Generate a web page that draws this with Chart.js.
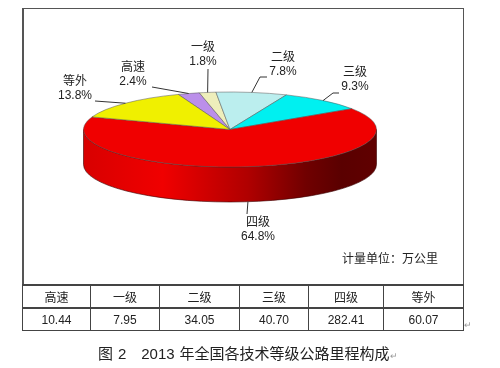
<!DOCTYPE html>
<html>
<head>
<meta charset="utf-8">
<title>图2</title>
<script src="https://cdn.jsdelivr.net/npm/chart.js@4/dist/chart.umd.min.js"></script>
<style>
    html, body { margin: 0; padding: 0; background: #fff; }
    #page { position: relative; width: 500px; height: 368px; overflow: hidden; font-family: "Liberation Sans", "Noto Sans CJK SC", sans-serif; color: #222; }
    #frame { position: absolute; left: 22px; top: 8px; width: 439px; height: 276px; border: 1px solid #555; border-left-width: 2px; border-bottom: 0; }
    canvas { position: absolute; left: 0; top: 0; }
    #unit { position: absolute; left: 342px; top: 251px; font-size: 12px; line-height: 16px; white-space: nowrap; }
    #road-table { position: absolute; left: 22px; top: 284px; width: 441px; height: 47px; border-collapse: collapse; table-layout: fixed; font-size: 12px; }
    #road-table td { border: 1px solid #444; border-top-width: 2px; padding: 0; text-align: center; height: 21px; }
    #mark { position: absolute; left: 464px; top: 320px; font-size: 9px; color: #999; }
    #caption { position: absolute; left: 98px; top: 345px; font-size: 15px; line-height: 18px; word-spacing: 0.8px; white-space: pre; }
    #caption span { color: #999; font-size: 9px; }
</style>
</head>
<body>
<div id="page">
    <div id="frame"></div>
    <canvas id="chart-pie" width="500" height="368"></canvas>
    <div id="unit">计量单位&#xFF1A;万公里</div>
    <table id="road-table"></table>
    <div id="mark">↵</div>
    <div id="caption">图 2   2013 年全国各技术等级公路里程构成<span>↵</span></div>
</div>
<script>
// Datos
const categories = ['高速', '一级', '二级', '三级', '四级', '等外'];
const mileage = [10.44, 7.95, 34.05, 40.70, 282.41, 60.07];
const mileageLabels = ['10.44', '7.95', '34.05', '40.70', '282.41', '60.07'];
const sliceColors = ['#BB8FEA', '#EEEEBB', '#BBEEEE', '#00F0F0', '#F00000', '#F0F000'];
const columnWidths = [68, 69, 80, 69, 75, 80];

// Geometry of the flattened pie
const RADIUS = 146.5;
const SQUASH = 0.256;
const DEPTH = 35;
const START_ANGLE = -20.7;

// Label centre and the leader's far end / elbows, same order as categories
const labelLayout = [
    { x: 133, y: 66, leader: [[152, 87]] },
    { x: 203, y: 46, leader: [[208, 69]] },
    { x: 283, y: 56, leader: [[267, 77], [260, 77]] },
    { x: 355, y: 71, leader: [[339, 93], [333, 93]] },
    { x: 258, y: 221, leader: [[247, 214]] },
    { x: 75, y: 80, leader: [[95, 101]] }
];

// ------------------------------------------
// Table under the chart
// ------------------------------------------
const table = document.getElementById('road-table');
table.innerHTML =
    '<colgroup>' + columnWidths.map(w => `<col style="width:${w}px">`).join('') + '</colgroup>' +
    '<tr>' + categories.map(c => `<td>${c}</td>`).join('') + '</tr>' +
    '<tr>' + mileageLabels.map(v => `<td>${v}</td>`).join('') + '</tr>';

// ------------------------------------------
// Plugin: squash the pie, draw wall and labels
// ------------------------------------------
const pie3d = {
    id: 'pie3d',
    beforeDatasetsDraw(chart) {
        const ctx = chart.ctx;
        const arcs = chart.getDatasetMeta(0).data;
        const { x, y } = arcs[0];
        const k = SQUASH;

        const wall = ctx.createLinearGradient(x - RADIUS, 0, x + RADIUS, 0);
        wall.addColorStop(0, '#D80000');
        wall.addColorStop(0.27, '#F00000');
        wall.addColorStop(0.56, '#B00000');
        wall.addColorStop(0.76, '#700000');
        wall.addColorStop(0.88, '#5A0000');
        wall.addColorStop(1, '#600000');

        // only the part of each slice below the centre line shows a wall
        arcs.forEach(arc => {
            for (const turn of [0, Math.PI * 2]) {
                const a0 = Math.max(arc.startAngle - turn, 0);
                const a1 = Math.min(arc.endAngle - turn, Math.PI);
                if (a1 <= a0) continue;
                ctx.save();
                ctx.beginPath();
                ctx.ellipse(x, y, RADIUS, RADIUS * k, 0, a0, a1);
                ctx.ellipse(x, y + DEPTH, RADIUS, RADIUS * k, 0, a1, a0, true);
                ctx.closePath();
                ctx.fillStyle = wall;
                ctx.fill();
                ctx.strokeStyle = '#3A0000';
                ctx.lineWidth = 0.6;
                ctx.stroke();
                ctx.restore();
            }
        });
    },
    beforeDatasetDraw(chart) {
        const ctx = chart.ctx;
        const { x, y } = chart.getDatasetMeta(0).data[0];
        ctx.save();
        ctx.translate(x, y);
        ctx.scale(1, SQUASH);
        ctx.translate(-x, -y);
    },
    afterDatasetDraw(chart) {
        chart.ctx.restore();
    },
    afterDatasetsDraw(chart) {
        const ctx = chart.ctx;
        const arcs = chart.getDatasetMeta(0).data;
        const total = mileage.reduce((a, b) => a + b, 0);

        ctx.save();
        ctx.textAlign = 'center';
        ctx.textBaseline = 'middle';
        arcs.forEach((arc, i) => {
            const layout = labelLayout[i];
            const mid = (arc.startAngle + arc.endAngle) / 2;

            // leader starts on the rim at the middle of the slice
            let rimY = arc.y + Math.sin(mid) * RADIUS * SQUASH;
            if (Math.sin(mid) > 0) rimY += DEPTH;
            ctx.beginPath();
            ctx.moveTo(arc.x + Math.cos(mid) * RADIUS, rimY);
            layout.leader.slice().reverse().forEach(p => ctx.lineTo(p[0], p[1]));
            ctx.strokeStyle = '#333';
            ctx.lineWidth = 1;
            ctx.stroke();

            ctx.fillStyle = '#222';
            ctx.font = '12px "Noto Sans CJK SC", sans-serif';
            ctx.fillText(categories[i], layout.x, layout.y);
            ctx.font = '12px "Liberation Sans", sans-serif';
            ctx.fillText((mileage[i] / total * 100).toFixed(1) + '%', layout.x, layout.y + 16);
        });
        ctx.restore();
    }
};

// ------------------------------------------
// Chart
// ------------------------------------------
new Chart(document.getElementById('chart-pie'), {
    type: 'pie',
    data: {
        labels: categories,
        datasets: [{
            data: mileage,
            backgroundColor: sliceColors,
            borderColor: '#555',
            borderWidth: 0.8
        }]
    },
    options: {
        responsive: false,
        animation: false,
        rotation: START_ANGLE,
        radius: RADIUS,
        layout: { padding: { left: 0, right: 40, top: 0, bottom: 109 } },
        plugins: {
            legend: { display: false },
            tooltip: { enabled: false }
        }
    },
    plugins: [pie3d]
});
</script>
</body>
</html>
